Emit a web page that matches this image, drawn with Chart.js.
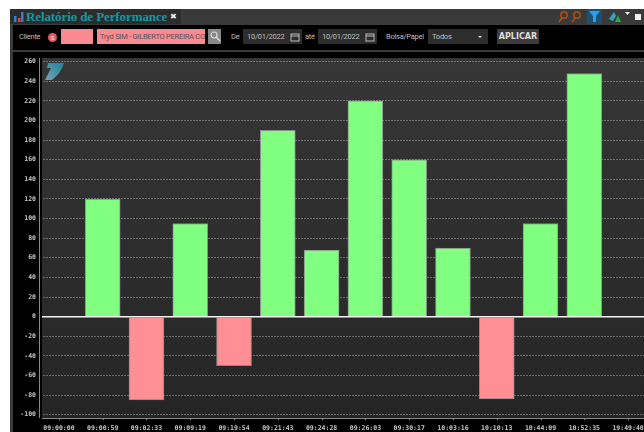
<!DOCTYPE html>
<html>
<head>
<meta charset="utf-8">
<title>Relatório de Performance</title>
<script src="https://cdn.jsdelivr.net/npm/chart.js@4/dist/chart.umd.min.js"></script>
<style>
html, body { margin: 0; padding: 0; background: #fff; overflow: hidden; }
body { width: 644px; height: 432px; position: relative; font-family: Roboto, "Noto Sans", sans-serif; }
#janela { position: absolute; left: 10px; top: 9px; width: 634px; height: 423px; background: #3a3a3a; overflow: hidden; }
#aba { position: absolute; left: 0; top: 0; width: 171px; height: 15px; background: #2c2c2c; }
#titulo { position: absolute; left: 16px; top: 0; font: bold 13px "Liberation Serif", serif; letter-spacing: -0.1px; line-height: 15px; color: #149aa3; white-space: nowrap; }
#fechar { position: absolute; left: 160px; top: 0; font: bold 8px "DejaVu Sans"; line-height: 15px; color: #eee; }
#barra { position: absolute; left: 3px; top: 16px; width: 631px; height: 25px; background: #000; color: #bdbdbd; font-size: 7.5px; letter-spacing: -0.25px; }
#barra div { position: absolute; white-space: nowrap; line-height: 15px; height: 15px; top: 4px; }
.campo { background: #2d2d2d; padding-left: 4px; box-sizing: border-box; }
.rosa { background: #f98a91; color: #555; }
#grafico { position: absolute; left: 13px; top: 52px; width: 637px; height: 380px; background: #000; }
canvas { display: block; }
#logo { position: absolute; left: 43px; top: 61px; opacity: 0.85; }
.ic { position: absolute; }
</style>
</head>
<body>
<div id="janela">
  <div id="aba"></div>
  <svg class="ic" style="left:3px;top:2px" width="12" height="12"><rect x="1" y="5" width="2.5" height="6" fill="#2f7fd6"/><rect x="5" y="7" width="2.5" height="4" fill="#e04040"/><rect x="8" y="1" width="2.5" height="10" fill="#2f7fd6"/></svg>
  <div id="titulo">Relatório de Performance</div>
  <div id="fechar">✖</div>
  <svg class="ic" style="left:545px;top:0" width="89" height="15">
    <circle cx="9" cy="6" r="3.2" fill="none" stroke="#b5500f" stroke-width="1.4"/><line x1="7" y1="9" x2="4" y2="13" stroke="#b5500f" stroke-width="1.5"/>
    <circle cx="22" cy="6" r="3.2" fill="none" stroke="#b5500f" stroke-width="1.4"/><line x1="20" y1="9" x2="17" y2="13" stroke="#b5500f" stroke-width="1.5"/>
    <rect x="32" y="0" width="15" height="15" fill="#1d4f73"/>
    <path d="M34 2 H45 L41 7 V13 L38 13 V7 Z" fill="#2aa0ee"/>
    <path d="M54 10 L59 3 L61 7 L58 12 Z" fill="#3aa0c8"/><path d="M60 13 L63 6 L66 13 Z" fill="#2fa84a"/>
    <path d="M70 3 H75 L72.5 6 Z" fill="#eee"/>
    <rect x="80" y="5" width="6" height="6" fill="#eee"/>
  </svg>
  <div id="barra">
    <div style="left:6px">Cliente</div>
    <div style="left:35px;top:8px;width:9px;height:9px;border-radius:5px;background:#e8595f;color:#fff;font-size:6px;line-height:9px;text-align:center">S</div>
    <div class="rosa" style="left:48px;width:32px"></div>
    <div class="rosa" style="left:84px;width:108px;padding-left:3px;box-sizing:border-box;overflow:hidden">Tryd SIM - GILBERTO PEREIRA CO</div>
    <div style="left:195px;width:13px;background:#888"></div>
    <svg style="position:absolute;left:196px;top:5px" width="12" height="13"><circle cx="5" cy="5" r="3" fill="none" stroke="#ddd" stroke-width="1.2"/><line x1="7" y1="7" x2="11" y2="11" stroke="#ddd" stroke-width="1.5"/></svg>
    <div style="left:218px">De</div>
    <div class="campo" style="left:230px;width:59px">10/01/2022</div>
    <svg style="position:absolute;left:277px;top:7px" width="10" height="10"><rect x="1" y="2" width="8" height="7" fill="none" stroke="#bbb"/><line x1="1" y1="4" x2="9" y2="4" stroke="#bbb"/></svg>
    <div style="left:292px">até</div>
    <div class="campo" style="left:305px;width:59px">10/01/2022</div>
    <svg style="position:absolute;left:352px;top:7px" width="10" height="10"><rect x="1" y="2" width="8" height="7" fill="none" stroke="#bbb"/><line x1="1" y1="4" x2="9" y2="4" stroke="#bbb"/></svg>
    <div style="left:373px">Bolsa/Papel</div>
    <div class="campo" style="left:415px;width:60px">Todos</div>
    <div style="left:465px;top:11px;width:0;height:0;border-left:2px solid transparent;border-right:2px solid transparent;border-top:2px solid #ddd"></div>
    <div style="left:484px;width:42px;background:#3c3c3c;color:#ddd;font-weight:bold;text-align:center;font-size:8px;letter-spacing:0;font-family:'DejaVu Sans'">APLICAR</div>
  </div>
</div>
<div id="grafico"><canvas id="performance" width="637" height="380"></canvas></div>
<svg id="logo" width="24" height="22">
  <defs><linearGradient id="gl" x1="0" y1="1" x2="1" y2="0"><stop offset="0" stop-color="#7fb8c6"/><stop offset="1" stop-color="#1d8fb0"/></linearGradient></defs>
  <path d="M5 2 H21 Q19 11 9 19 H2 L8 7 H4 Z" fill="url(#gl)"/>
</svg>
<script>
const horarios = ['09:00:00', '09:00:59', '09:02:33', '09:09:19', '09:19:54', '09:21:43', '09:24:28',
  '09:26:03', '09:30:17', '10:03:16', '10:10:13', '10:44:09', '10:52:35', '19:49:40'];
const resultados = [null, 120, -85, 95, -50, 190, 68, 220, 160, 70, -84, 95, 248, null];

const VERDE = '#80ff80';
const VERMELHO = '#ff8f94';

// fundo do grafico, tira preta com eixo e marcas do eixo x
const moldura = {
  id: 'moldura',
  beforeDraw(chart) {
    const c = chart.ctx;
    const g = c.createLinearGradient(0, 6, 0, 366);
    g.addColorStop(0, '#363636');
    g.addColorStop(1, '#252525');
    c.fillStyle = g;
    c.fillRect(29, 6, 610, 360);
  },
  beforeDatasetsDraw(chart) {
    const c = chart.ctx;
    const a = chart.chartArea;
    c.save();
    c.fillStyle = '#000';
    c.fillRect(a.left, 0, 5, 380);
    c.strokeStyle = '#888';
    c.lineWidth = 1;
    c.beginPath();
    c.moveTo(26.5, 6);
    c.lineTo(26.5, 366);
    c.moveTo(29, 366.5);
    c.lineTo(637, 366.5);
    chart.scales.x.ticks.forEach((t, i) => {
      const x = Math.round(chart.scales.x.getPixelForTick(i)) + 0.5;
      c.moveTo(x, 366);
      c.lineTo(x, 368);
    });
    c.stroke();
    c.restore();
  }
};

new Chart(document.getElementById('performance').getContext('2d'), {
  type: 'bar',
  data: {
    labels: horarios,
    datasets: [{
      data: resultados,
      backgroundColor: ctx => ctx.raw >= 0 ? VERDE : VERMELHO,
      borderColor: 'rgba(170,170,170,0.75)',
      borderWidth: 1,
      barThickness: 35
    }]
  },
  options: {
    responsive: false,
    animation: false,
    layout: { padding: { top: 9.7, right: 0, left: 0, bottom: 0 } },
    plugins: { legend: { display: false }, tooltip: { enabled: false } },
    scales: {
      x: {
        afterFit(s) { s.height = 17.3; },
        grid: { display: false },
        border: { display: false },
        ticks: {
          color: '#c8c8c8',
          font: { family: 'DejaVu Sans Mono', size: 6.5, weight: 'bold' },
          maxRotation: 0,
          autoSkip: false,
          padding: 2
        }
      },
      y: {
        min: -100,
        max: 260,
        afterFit(s) { s.width = 24; },
        border: { display: false, dash: ctx => ctx.tick && ctx.tick.value === 0 ? [] : [2, 1] },
        grid: {
          drawTicks: false,
          color: ctx => ctx.tick.value === 0 ? '#f2f2f2' : 'rgba(190,190,190,0.45)',
          lineWidth: ctx => ctx.tick.value === 0 ? 1.5 : 1
        },
        ticks: {
          stepSize: 20,
          color: '#c8c8c8',
          padding: 1,
          font: { family: 'DejaVu Sans Mono', size: 6.5, weight: 'bold' }
        }
      }
    }
  },
  plugins: [moldura]
});
</script>
</body>
</html>
